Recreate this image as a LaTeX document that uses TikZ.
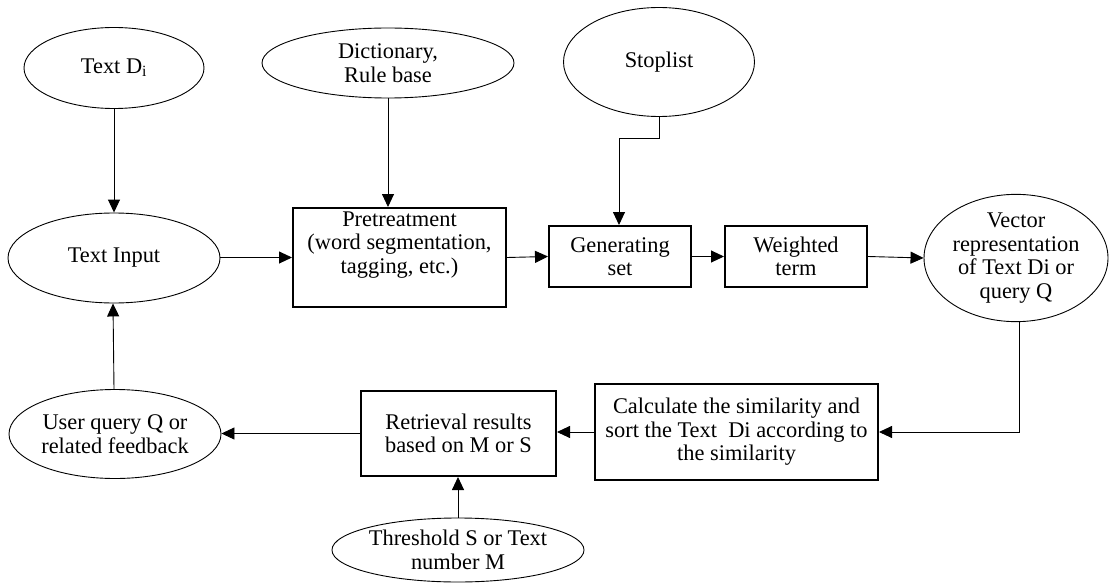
\documentclass[tikz,border=0pt]{standalone}
\usepackage{fontspec}
\setmainfont{Liberation Serif}
\usetikzlibrary{shapes.geometric,arrows.meta}
\begin{document}
\begin{tikzpicture}[x=1pt,y=-1pt,
  every node/.style={font=\fontsize{22.4}{23.5}\selectfont, align=center, inner sep=0pt},
  ell/.style={draw, ellipse, line width=0.9pt},
  boxx/.style={draw, rectangle, line width=2pt},
  conn/.style={line width=0.9pt, -{Triangle[length=13pt,width=12pt]}}
]
\useasboundingbox (0,0) rectangle (1110,583);
% ellipses
\node[ell, minimum width=180pt, minimum height=81pt] (tdi) at (114,68) {Text D\textsubscript{i}};
\node[ell, minimum width=252pt, minimum height=70pt] (dict) at (388,63) {Dictionary,\\Rule base};
\node[ell, minimum width=191pt, minimum height=109pt] (stop) at (659,62) {Stoplist};
\node[ell, minimum width=212pt, minimum height=90pt] (tin) at (114,258) {Text Input};
\node[ell, minimum width=184pt, minimum height=116pt] (vec) at (1016,258) {Vector\\representation\\of Text Di or\\query Q};
\node[ell, minimum width=212pt, minimum height=89pt] (uq) at (115,434) {User query Q or\\related feedback};
\node[ell, minimum width=241pt, minimum height=64pt] (thr) at (458,550) {Threshold S or Text\\number M};
% boxes
\node[boxx, minimum width=213pt, minimum height=99pt] (pre) at (399.5,257.5) {};
\node (pretxt) at (399.5,245) {Pretreatment\\(word segmentation,\\tagging, etc.)};
\node[boxx, minimum width=142pt, minimum height=61pt] (gen) at (620,256.5) {Generating\\set};
\node[boxx, minimum width=142pt, minimum height=61pt] (wt) at (796,256.5) {Weighted\\term};
\node[boxx, minimum width=283pt, minimum height=96pt] (calc) at (736.5,432) {Calculate the similarity and\\sort the Text~ Di according to\\the similarity};
\node[boxx, minimum width=195pt, minimum height=85pt] (ret) at (458.5,433.5) {Retrieval results\\based on M or S};
% connectors
\draw[conn] (tdi.south) -- (tin.north);
\draw[conn] (dict.south) -- (dict.south |- pre.north);
\draw[conn] (stop.south) -- ++(0,21) -| ([xshift=-1pt]gen.north);
\draw[conn] (tin.east |- pre.west) -- (pre.west);
\draw[conn] (pre.east) -- (gen.west);
\draw[conn] (gen.east) -- (wt.west);
\draw[conn] (wt.east) -- (vec.west);
\draw[conn] ([xshift=3pt]vec.south) |- (calc.east);
\draw[conn] (calc.west) -- (calc.west -| ret.east);
\draw[conn] (ret.west) -- (ret.west -| uq.east);
\draw[conn] (thr.north) -- (thr.north |- ret.south);
\draw[conn] ([xshift=-1pt]uq.north) -- ([xshift=-1pt]tin.south);
\end{tikzpicture}
\end{document}
